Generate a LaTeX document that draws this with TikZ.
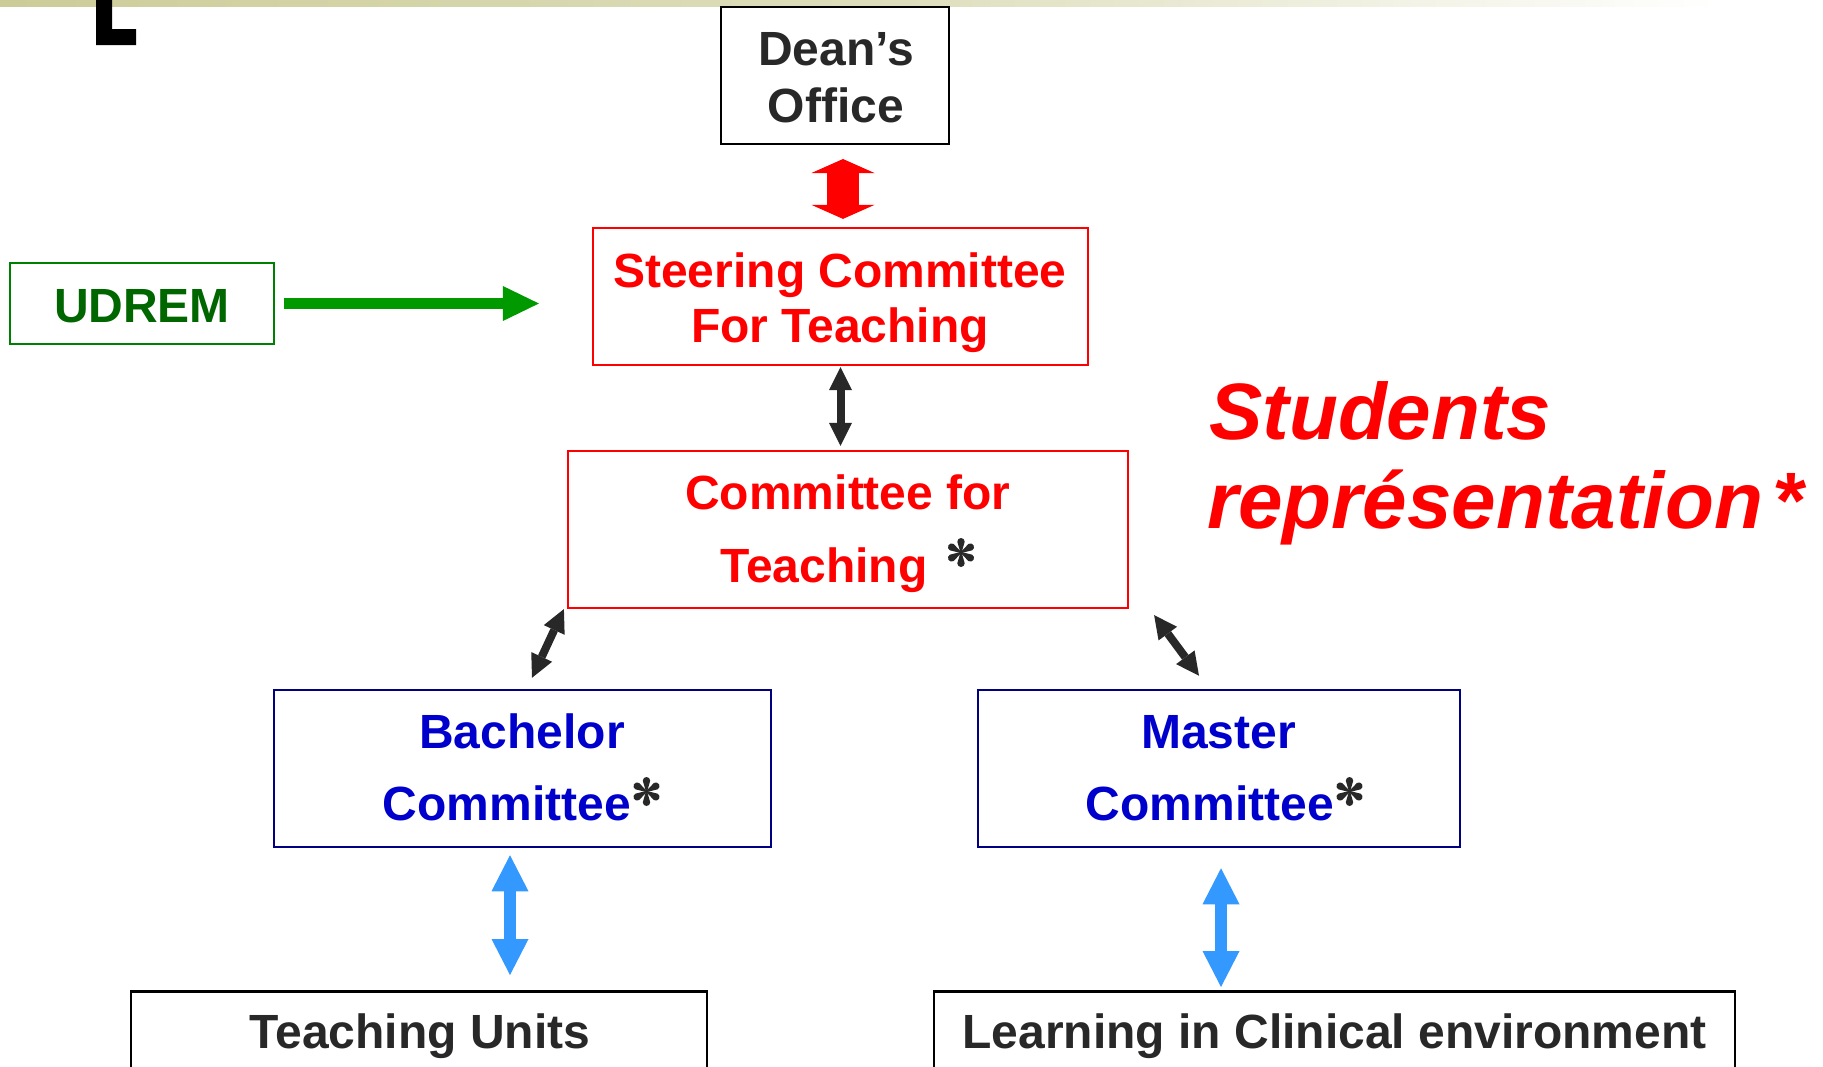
\documentclass[tikz,border=0pt]{standalone}
\usepackage{fontspec}
\setmainfont{Liberation Sans}
\usetikzlibrary{arrows.meta}

\definecolor{inkgray}{RGB}{40,40,40}
\definecolor{udgreen}{RGB}{0,128,0}
\definecolor{udtext}{RGB}{0,102,0}
\definecolor{udarrow}{RGB}{0,153,0}
\definecolor{navyline}{RGB}{0,0,128}
\definecolor{bluetext}{RGB}{0,0,204}
\definecolor{skyarrow}{RGB}{51,153,255}
\definecolor{barolive}{RGB}{204,204,153}

\begin{document}
\begin{tikzpicture}[x=1pt,y=-1pt,
  box/.style={draw, rectangle, line width=2.2pt, inner sep=0pt},
  txt/.style={inner sep=0pt, anchor=base, font=\fontsize{48}{48}\selectfont\bfseries},
  caption/.style={inner sep=0pt, anchor=base west, text=red, font=\fontsize{80}{80}\selectfont\bfseries\itshape},
  redtwin/.style={draw=red, line width=32pt,
    {Triangle[width=63pt,length=14pt,line width=0pt]}-{Triangle[width=63pt,length=14pt,line width=0pt]}},
  darktwin/.style={draw=inkgray, line width=8pt,
    {Triangle[width=23pt,length=23pt,line width=0pt]}-{Triangle[width=23pt,length=23pt,line width=0pt]}},
  skytwin/.style={draw=skyarrow, line width=12pt,
    {Triangle[width=37pt,length=36pt,line width=0pt]}-{Triangle[width=37pt,length=36pt,line width=0pt]}},
  greenarrow/.style={draw=udarrow, line width=11pt,
    -{Triangle[width=35pt,length=36pt,line width=0pt]}},
  % six-petal floret marking student representation
  floret/.pic={
    \foreach \a in {30,90,150,210,270,330}{
      \fill[inkgray, rotate=\a] (0,-0.6) -- (10.8,-3.7) arc (-90:90:3.7) -- (0,0.6) -- cycle;
    }
  }
]
\useasboundingbox (0,0) rectangle (1823,1066);
\clip (0,0) rectangle (1823,1066);
\fill[white] (0,0) rectangle (1823,1066);

% header band and the corner of the title letter
\shade[left color=barolive, right color=barolive!65!white] (0,0) rectangle (900,6.7);
\shade[left color=barolive!65!white, right color=white] (900,0) rectangle (1720,6.7);
\fill[black] (96,0) -- (112,0) -- (112,29) -- (136,29) -- (136,45) -- (96,45) -- cycle;

% boxes
\node[box, draw=black, line width=2pt, minimum width=228pt, minimum height=137pt] (dean) at (835,75.5) {};
\node[box, draw=red, minimum width=495pt, minimum height=137pt] (steer) at (840.5,296.5) {};
\node[box, draw=udgreen, minimum width=264pt, minimum height=81pt] (udrem) at (142,303.5) {};
\node[box, draw=red, minimum width=560pt, minimum height=157pt] (cft) at (848,529.5) {};
\node[box, draw=navyline, line width=2.5pt, minimum width=497pt, minimum height=157pt] (bach) at (522.5,768.5) {};
\node[box, draw=navyline, line width=2.5pt, minimum width=482pt, minimum height=157pt] (mast) at (1219,768.5) {};
\node[box, draw=black, line width=2.5pt, minimum width=576pt, minimum height=200pt, anchor=north] (tu) at (419,990) {};
\node[box, draw=black, line width=2.5pt, minimum width=801pt, minimum height=200pt, anchor=north] (lce) at (1334.5,990) {};

% box texts
\node[txt, text=inkgray] (deanA) at (836,65) {Dean’s};
\node[txt, text=inkgray] (deanB) at (836,122) {Office};
\node[txt, text=red] (steerA) at (840,287) {Steering Committee};
\node[txt, text=red] (steerB) at (840,342) {For Teaching};
\node[txt, text=udtext] (udremT) at (142,322) {UDREM};
\node[txt, text=red] (cftA) at (848,509) {Committee for};
\node[txt, text=red] (cftB) at (824,582) {Teaching};
\node[txt, text=bluetext] (bachA) at (522,748) {Bachelor};
\node[txt, text=bluetext] (bachB) at (507,820) {Committee};
\node[txt, text=bluetext] (mastA) at (1218.5,748) {Master};
\node[txt, text=bluetext] (mastB) at (1210,820) {Committee};
\node[txt, text=inkgray] (tuT) at (420,1048) {Teaching Units};
\node[txt, text=inkgray] (lceT) at (1334.5,1048) {Learning in Clinical environment};

% representation marks
\pic at (961,552.5) {floret};
\pic at (646.5,791.5) {floret};
\pic at (1349.5,791.5) {floret};

% side caption
\node[caption] (stuA) at (1209,439) {Students};
\node[caption] (stuB) at (1207,528) {représentation\hspace{10pt}*};

% connectors
\draw[redtwin, shorten <=14pt, shorten >=8pt] ([xshift=8pt]dean.south) -- ([xshift=2.5pt]steer.north);
\draw[greenarrow, shorten <=9pt, shorten >=53pt] (udrem.east) -- (udrem.east -| steer.west);
\draw[darktwin, shorten <=1pt, shorten >=4pt] (steer.south) -- (steer.south |- cft.north);
\draw[darktwin] ([shift={(-3,0)}]cft.south west) -- ([shift={(9.5,-11)}]bach.north);
\draw[darktwin] ([shift={(25,6)}]cft.south east) -- ([shift={(-20,-13)}]mast.north);
\draw[skytwin, shorten <=7pt, shorten >=15pt] ([xshift=-12.5pt]bach.south) -- ([xshift=-12.5pt]bach.south |- tu.north);
\draw[skytwin, shorten <=20pt, shorten >=3pt] ([xshift=2pt]mast.south) -- ([xshift=2pt]mast.south |- lce.north);
\end{tikzpicture}
\end{document}
